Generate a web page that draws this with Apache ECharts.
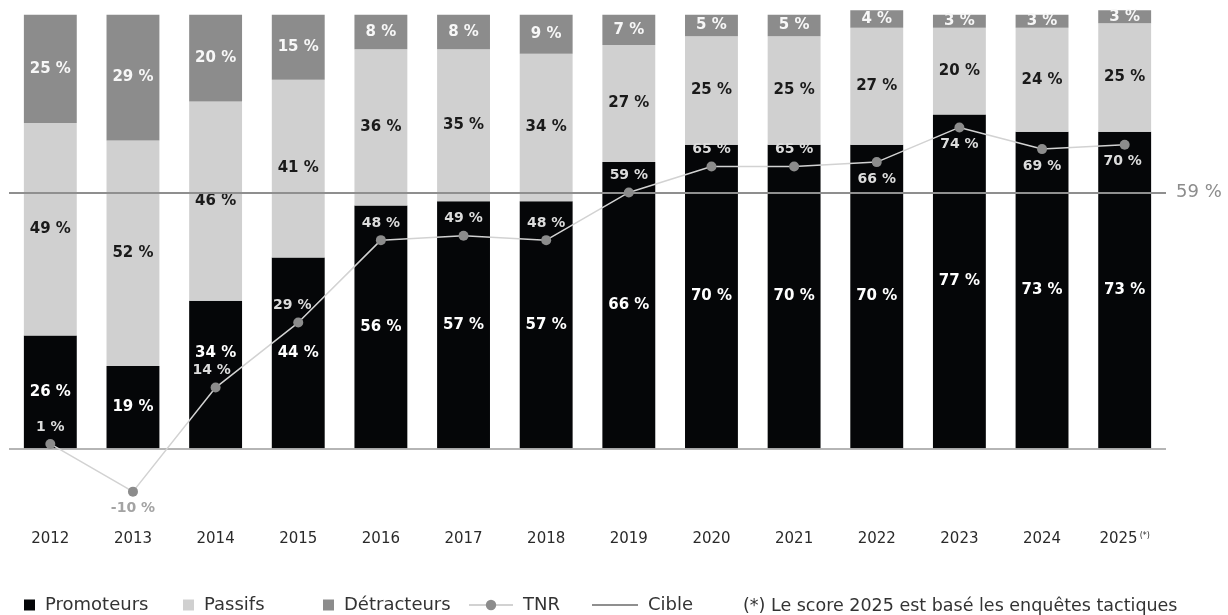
<!DOCTYPE html>
<html><head><meta charset="utf-8">
<script src="https://cdn.jsdelivr.net/npm/echarts@6/dist/echarts.min.js"></script>
<style>html,body{margin:0;padding:0;background:#fff}#c{width:1228px;height:615px}</style>
</head><body><div id="c"></div>
<script>
// ---- data ----
const categories = ['2012','2013','2014','2015','2016','2017','2018','2019','2020','2021','2022','2023','2024','2025'];
const promoteurs = [26,19,34,44,56,57,57,66,70,70,70,77,73,73];
const passifs    = [49,52,46,41,36,35,34,27,25,25,27,20,24,25];
const detracteurs= [25,29,20,15,8,8,9,7,5,5,4,3,3,3];
const tnr        = [1,-10,14,29,48,49,48,59,65,65,66,74,69,70];
const cible = 59;
const footnoteYear = '2025';
const footnoteText = '(*) Le score 2025 est basé les enquêtes tactiques';

// ---- styling ----
const FONT = '"DejaVu Sans", sans-serif';
const C_PROMO = '#050608', C_PASS = '#d0d0d0', C_DETR = '#8c8c8c';

const pct = p => p.value + ' %';
const barLabel = color => ({show:true, position:'inside', color, fontFamily:FONT, fontWeight:'bold', fontSize:15, formatter: p => (typeof p.value === 'object' ? p.value.value : p.value) + ' %'});

const tnrBelow = new Set([1,10,11,12,13]);
const tnrOffsets = {2:[-4,0], 3:[-6,0], 13:[-2,0]};
const tnrData = tnr.map((v,i) => ({
  value: v,
  label: {
    position: tnrBelow.has(i) ? 'bottom' : 'top',
    offset: tnrOffsets[i] || [0,0],
    color: v < 0 ? '#a3a3a3' : '#dcdcdc'
  }
}));

const promoData = promoteurs.map((v,i) => i === 2 ? {value:v, label:{offset:[0,-21]}} : v);

const legendText = {fontFamily:FONT, fontSize:18, color:'#333', padding:[0,0,0,5]};
const legendBase = {padding:0, top:596, textStyle:legendText, selectedMode:false};

const option = {
  animation: false,
  backgroundColor: '#fff',
  grid: {left:9, right:62, top:6, bottom:93, containLabel:false},
  xAxis: {
    type:'category', data: categories,
    axisLine:{show:false}, axisTick:{show:false},
    axisLabel:{
      interval:0, margin:10, color:'#2a2a2a', fontFamily:FONT, fontSize:15,
      formatter: v => v === footnoteYear ? `{y|${v}}{s|(*)}` : v,
      rich: {
        y:{color:'#2a2a2a', fontFamily:FONT, fontSize:15},
        s:{color:'#2a2a2a', fontFamily:FONT, fontSize:8, verticalAlign:'top', padding:[0,0,7,2]}
      }
    }
  },
  yAxis: {type:'value', min:-17, max:102, show:false, splitLine:{show:false}},
  legend: [
    Object.assign({data:['Promoteurs'], left:24, icon:'rect', itemWidth:11, itemHeight:11}, legendBase),
    Object.assign({data:['Passifs'], left:183, icon:'rect', itemWidth:11, itemHeight:11}, legendBase),
    Object.assign({data:['Détracteurs'], left:323, icon:'rect', itemWidth:11, itemHeight:11}, legendBase),
    Object.assign({data:['TNR'], left:468, itemWidth:44, itemHeight:13}, legendBase),
    Object.assign({data:[{name:'Cible', icon:'rect'}], left:592, itemWidth:46, itemHeight:2}, legendBase)
  ],
  graphic: [{
    type:'text', left:743, top:597,
    style:{text: footnoteText, font:'17.5px "DejaVu Sans", sans-serif', fill:'#333'}
  }],
  series: [
    {
      name:'Promoteurs', type:'bar', stack:'a', data: promoData,
      barCategoryGap:'36%', itemStyle:{color:C_PROMO},
      label: barLabel('#ffffff'),
      markLine: {
        silent:true, symbol:'none', label:{show:false},
        lineStyle:{color:'#9c9c9c', width:1.6, type:'solid'},
        data:[{yAxis:0}]
      }
    },
    {
      name:'Passifs', type:'bar', stack:'a', data: passifs,
      itemStyle:{color:C_PASS}, label: barLabel('#1a1a1a')
    },
    {
      name:'Détracteurs', type:'bar', stack:'a', data: detracteurs,
      itemStyle:{color:C_DETR}, label: barLabel('#f7f7f7')
    },
    {
      name:'Cible', type:'line', data: [], symbol:'none',
      lineStyle:{color:'#8f8f8f', width:2}, itemStyle:{color:'#8f8f8f'},
      z: 5,
      markLine: {
        silent:true, symbol:'none',
        lineStyle:{color:'#8f8f8f', width:2, type:'solid'},
        label:{show:true, position:'end', distance:10, formatter: cible + ' %', color:'#8c8c8c', fontFamily:FONT, fontSize:18},
        data:[{yAxis: cible}]
      }
    },
    {
      name:'TNR', type:'line', data: tnrData, z: 10,
      symbol:'circle', symbolSize:10,
      lineStyle:{color:'#d2d2d2', width:1.5},
      itemStyle:{color:'#8c8c8c'},
      label:{show:true, distance:5, fontFamily:FONT, fontWeight:'bold', fontSize:14, formatter: pct}
    }
  ]
};
const chart = echarts.init(document.getElementById('c'));
chart.setOption(option);
</script></body></html>
